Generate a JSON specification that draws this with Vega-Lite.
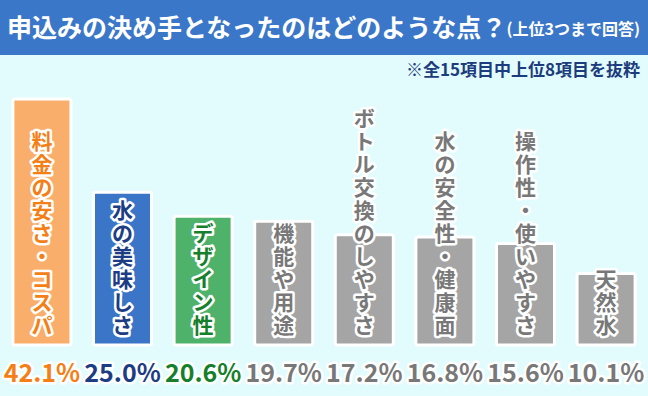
{
  "$schema": "https://vega.github.io/schema/vega-lite/v6.json",
  "background": "#e2fbfc",
  "padding": 0,
  "spacing": 7,
  "config": {"view": {"stroke": null}, "font": "Noto Sans CJK JP"},
  "vconcat": [
    {
      "width": 648,
      "height": 55,
      "view": {"fill": "#3b77c8", "stroke": null},
      "data": {"values": [{"title": "申込みの決め手となったのはどのような点？", "note": "(上位3つまで回答)"}]},
      "layer": [
        {
          "mark": {"type": "text", "align": "left", "baseline": "middle", "dx": -317, "dy": 1, "fontSize": 25, "fontWeight": "bold", "color": "#ffffff"},
          "encoding": {"text": {"field": "title", "type": "nominal"}}
        },
        {
          "mark": {"type": "text", "align": "right", "baseline": "middle", "dx": 316, "dy": 2, "fontSize": 16, "fontWeight": "bold", "color": "#ffffff"},
          "encoding": {"text": {"field": "note", "type": "nominal"}}
        }
      ]
    },
    {
      "width": 648,
      "height": 311,
      "title": {"text": "※全15項目中上位8項目を抜粋", "anchor": "end", "frame": "group", "fontSize": 17, "fontWeight": "bold", "color": "#1c3c7d", "offset": 6, "dx": -8},
      "data": {
        "values": [
          {"item": "料金の安さ・コスパ", "value": 42.1},
          {"item": "水の美味しさ", "value": 25.0},
          {"item": "デザイン性", "value": 20.6},
          {"item": "機能や用途", "value": 19.7},
          {"item": "ボトル交換のしやすさ", "value": 17.2},
          {"item": "水の安全性・健康面", "value": 16.8},
          {"item": "操作性・使いやすさ", "value": 15.6},
          {"item": "天然水", "value": 10.1}
        ]
      },
      "transform": [
        {"calculate": "split(datum.item, '')", "as": "chars"},
        {"calculate": "format(datum.value, '.1f') + '%'", "as": "label"}
      ],
      "encoding": {
        "x": {"field": "item", "type": "nominal", "sort": null, "axis": null, "scale": {"paddingInner": 0.28, "paddingOuter": 0.16}}
      },
      "layer": [
        {
          "mark": {"type": "bar", "stroke": "#ffffff", "strokeWidth": 3, "cornerRadius": 2},
          "encoding": {
            "y": {"field": "value", "type": "quantitative", "axis": null, "scale": {"domain": [-12.53, 44.48], "nice": false, "zero": false}},
            "y2": {"datum": -3},
            "fill": {"field": "item", "type": "nominal", "legend": null, "sort": null,
              "scale": {"domain": ["料金の安さ・コスパ", "水の美味しさ", "デザイン性", "機能や用途", "ボトル交換のしやすさ", "水の安全性・健康面", "操作性・使いやすさ", "天然水"],
                        "range": ["#f9af6b", "#3a75c7", "#4eb26a", "#a5a5a5", "#a5a5a5", "#a5a5a5", "#a5a5a5", "#a5a5a5"]}}
          }
        },
        {
          "mark": {"type": "text", "align": "center", "baseline": "bottom", "dy": {"expr": "-8 - 23 * (length(datum.chars) - 1)"}, "fontSize": 21, "fontWeight": "bold", "lineHeight": 23, "stroke": "#ffffff", "strokeWidth": 5, "strokeJoin": "round", "fill": "#ffffff"},
          "encoding": {
            "y": {"datum": -3, "type": "quantitative", "scale": {"domain": [-12.53, 44.48], "nice": false, "zero": false}},
            "text": {"field": "chars"}
          }
        },
        {
          "mark": {"type": "text", "align": "center", "baseline": "bottom", "dy": {"expr": "-8 - 23 * (length(datum.chars) - 1)"}, "fontSize": 21, "fontWeight": "bold", "lineHeight": 23},
          "encoding": {
            "y": {"datum": -3, "type": "quantitative", "scale": {"domain": [-12.53, 44.48], "nice": false, "zero": false}},
            "text": {"field": "chars"},
            "color": {"field": "item", "type": "nominal", "legend": null, "sort": null,
              "scale": {"domain": ["料金の安さ・コスパ", "水の美味しさ", "デザイン性", "機能や用途", "ボトル交換のしやすさ", "水の安全性・健康面", "操作性・使いやすさ", "天然水"],
                        "range": ["#f47f16", "#1c3d84", "#167f2c", "#787878", "#787878", "#787878", "#787878", "#787878"]}}
          }
        },
        {
          "mark": {"type": "text", "align": "center", "baseline": "middle", "fontSize": 25, "fontWeight": "bold", "stroke": "#ffffff", "strokeWidth": 5, "strokeJoin": "round", "fill": "#ffffff"},
          "encoding": {
            "y": {"datum": -8.32, "type": "quantitative", "scale": {"domain": [-12.53, 44.48], "nice": false, "zero": false}},
            "text": {"field": "label"}
          }
        },
        {
          "mark": {"type": "text", "align": "center", "baseline": "middle", "fontSize": 25, "fontWeight": "bold"},
          "encoding": {
            "y": {"datum": -8.32, "type": "quantitative", "scale": {"domain": [-12.53, 44.48], "nice": false, "zero": false}},
            "text": {"field": "label"},
            "color": {"field": "item", "type": "nominal", "legend": null, "sort": null,
              "scale": {"domain": ["料金の安さ・コスパ", "水の美味しさ", "デザイン性", "機能や用途", "ボトル交換のしやすさ", "水の安全性・健康面", "操作性・使いやすさ", "天然水"],
                        "range": ["#f47f16", "#1c3d84", "#167f2c", "#707070", "#707070", "#707070", "#707070", "#707070"]}}
          }
        }
      ]
    }
  ]
}
